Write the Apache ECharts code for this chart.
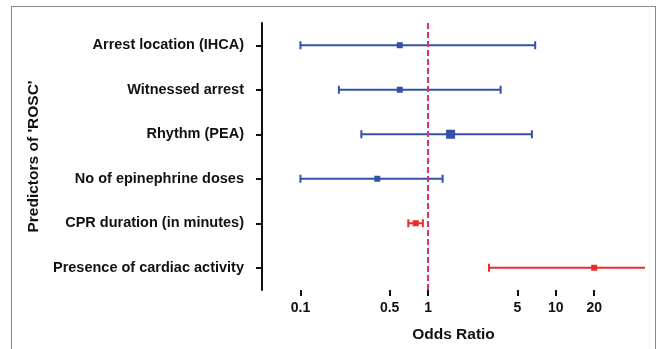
<!DOCTYPE html>
<html>
<head>
<meta charset="utf-8">
<script src="https://cdn.jsdelivr.net/npm/echarts@6/dist/echarts.min.js"></script>
<style>
  html, body { margin: 0; padding: 0; background: #fff; }
  #chart { width: 657px; height: 349px; }
  #frame {
    position: absolute; left: 11px; top: 6px; width: 643px; height: 360px;
    border: 1.5px solid #8a8a8a; pointer-events: none;
  }
</style>
</head>
<body>
<div id="chart"></div>
<div id="frame"></div>
<script>
// forest plot data (odds ratio with 95% CI)
const predictors = [
  'Arrest location (IHCA)',
  'Witnessed arrest',
  'Rhythm (PEA)',
  'No of epinephrine doses',
  'CPR duration (in minutes)',
  'Presence of cardiac activity'
];
const oddsRatio = [0.6, 0.6, 1.5, 0.4, 0.8, 20];
const lowerCI = [0.1, 0.2, 0.3, 0.1, 0.7, 3.0];
const upperCI = [6.9, 3.7, 6.5, 1.3, 0.91, 60];
const xTicks = [0.1, 0.5, 1, 5, 10, 20];

// styling per row
const rowColor = ['#3451a8', '#3451a8', '#3451a8', '#3451a8', '#ee2a2a', '#ee2a2a'];
const boxSize = [6, 6, 9, 6, 6, 6];

const font = '"Liberation Sans", Arial, Helvetica, sans-serif';

const chart = echarts.init(document.getElementById('chart'), null, { renderer: 'canvas' });

const rows = predictors.map((p, i) => [lowerCI[i], upperCI[i], oddsRatio[i], i]);

function renderItem(params, api) {
  const i = api.value(3);
  const lo = api.coord([api.value(0), i]);
  const hi = api.coord([api.value(1), i]);
  const pt = api.coord([api.value(2), i]);
  const c = rowColor[i];
  const s = boxSize[i];
  const cap = 4;
  const ls = { stroke: c, lineWidth: 2 };
  return {
    type: 'group',
    children: [
      { type: 'line', shape: { x1: lo[0], y1: lo[1], x2: hi[0], y2: hi[1] }, style: ls },
      { type: 'line', shape: { x1: lo[0], y1: lo[1] - cap, x2: lo[0], y2: lo[1] + cap }, style: ls },
      { type: 'line', shape: { x1: hi[0], y1: hi[1] - cap, x2: hi[0], y2: hi[1] + cap }, style: ls },
      { type: 'rect', shape: { x: pt[0] - s / 2, y: pt[1] - s / 2, width: s, height: s }, style: { fill: c } }
    ]
  };
}

chart.setOption({
  animation: false,
  backgroundColor: '#fff',
  textStyle: { fontFamily: font },
  grid: { left: 262, right: 12, top: 23, bottom: 59 },
  xAxis: {
    type: 'log',
    logBase: 10,
    min: 0.05,
    max: 50,
    name: 'Odds Ratio',
    nameLocation: 'middle',
    nameGap: 37,
    nameTextStyle: { color: '#111', fontSize: 15.5, fontWeight: 'bold', fontFamily: font },
    axisLine: { lineStyle: { color: '#111', width: 2 } },
    axisTick: { show: true, length: 6, lineStyle: { color: '#111', width: 2 }, customValues: xTicks },
    axisLabel: {
      color: '#111', fontSize: 14, fontWeight: 'bold', margin: 11, customValues: xTicks,
      formatter: v => String(v)
    },
    splitLine: { show: false },
    minorTick: { show: false }
  },
  yAxis: {
    type: 'category',
    inverse: true,
    data: predictors,
    name: "Predictors of 'ROSC'",
    nameLocation: 'middle',
    nameGap: 219,
    nameRotate: 90,
    nameTextStyle: { color: '#111', fontSize: 15.5, fontWeight: 'bold', fontFamily: font },
    axisLine: { show: true, lineStyle: { color: '#111', width: 2 } },
    axisTick: { show: true, alignWithLabel: true, length: 6, lineStyle: { color: '#111', width: 2 } },
    axisLabel: { color: '#111', fontSize: 14.5, fontWeight: 'bold', margin: 18 },
    splitLine: { show: false }
  },
  series: [
    {
      type: 'custom',
      renderItem: renderItem,
      clip: true,
      encode: { x: [0, 1, 2], y: 3 },
      data: rows,
      z: 3
    },
    {
      type: 'scatter',
      data: [],
      markLine: {
        silent: true,
        symbol: 'none',
        label: { show: false },
        lineStyle: { color: '#e0306a', width: 2, type: [6, 3] },
        data: [{ xAxis: 1 }]
      },
      z: 2
    }
  ]
});
</script>
</body>
</html>
